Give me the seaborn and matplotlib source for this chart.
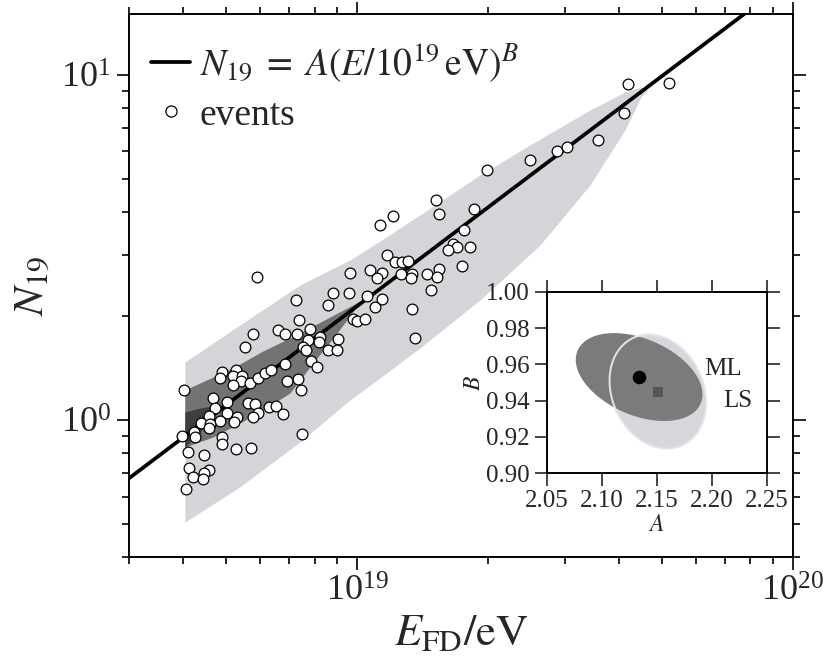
import numpy as np
import pandas as pd
import matplotlib
matplotlib.use("Agg")
import matplotlib.pyplot as plt
import seaborn as sns
from matplotlib.ticker import LogLocator, NullFormatter, MultipleLocator, FormatStrFormatter
from matplotlib.lines import Line2D

# ---- events: fluorescence energy (units of 1e18 eV) and N19 ----
event_E = [5.89, 7.25, 8.83, 9.61, 10.56, 8.60, 11.0, 7.38, 9.81, 9.99, 10.44, 5.77,
           5.54, 6.58, 6.84, 7.28, 7.81, 7.74, 8.23, 8.17, 9.07, 7.54, 7.63, 8.57,
           9.02, 7.85, 8.09, 6.84, 4.90, 4.85, 5.28, 5.20, 5.44, 5.42, 5.19, 5.68,
           5.94, 6.15, 6.34, 6.90, 7.34, 7.43, 4.02, 4.68, 5.03, 4.72, 5.63, 5.84,
           6.30, 6.51, 6.76, 5.92, 5.78, 5.04, 5.30, 4.58, 4.39, 4.85, 5.22, 4.60,
           4.58, 4.24, 3.98, 4.25, 4.91, 4.90, 5.28, 5.71, 7.50, 4.10, 4.47, 4.13,
           4.58, 4.46, 4.20, 4.44, 4.05,
           41.8, 52.1, 41.0, 35.8, 30.3, 28.8, 24.9, 19.9, 15.2, 15.4, 18.6, 11.3,
           12.1, 17.6, 11.7, 12.2, 12.7, 13.1, 16.6, 17.0, 16.2, 18.2, 17.4, 10.7,
           11.4, 11.1, 12.6, 13.4, 13.3, 14.5, 15.4, 15.3, 14.8, 11.4, 13.4, 13.6, 9.64]
event_N = [2.60, 2.22, 2.34, 2.34, 2.28, 2.15, 2.13, 1.95, 1.96, 1.93, 1.96, 1.78,
           1.63, 1.82, 1.77, 1.77, 1.83, 1.71, 1.74, 1.68, 1.72, 1.63, 1.59, 1.59,
           1.59, 1.48, 1.42, 1.45, 1.38, 1.32, 1.40, 1.34, 1.34, 1.30, 1.26, 1.28,
           1.32, 1.37, 1.40, 1.30, 1.31, 1.22, 1.22, 1.16, 1.13, 1.08, 1.12, 1.11,
           1.09, 1.10, 1.04, 1.05, 1.02, 1.05, 1.02, 1.03, 0.982, 0.993, 0.989, 0.974,
           0.946, 0.925, 0.899, 0.895, 0.891, 0.850, 0.826, 0.831, 0.909, 0.809, 0.792, 0.725,
           0.717, 0.703, 0.685, 0.675, 0.630,
           9.39, 9.45, 7.77, 6.46, 6.17, 6.00, 5.68, 5.29, 4.34, 3.94, 4.08, 3.67,
           3.91, 3.55, 3.01, 2.87, 2.86, 2.89, 3.23, 3.18, 3.11, 3.18, 2.80, 2.72,
           2.67, 2.58, 2.64, 2.65, 2.57, 2.65, 2.73, 2.60, 2.38, 2.24, 2.10, 1.73, 2.66]

# ---- fit results: N19 = A (E / 1e19 eV)^B ----
ml_A, ml_B = 2.134, 0.953
ls_A, ls_B = 2.151, 0.945
# (sigma_A, sigma_B, correlation) of the confidence regions
ml_err = (0.0576, 0.0242, -0.394)
ls_err = (0.0439, 0.0314, -0.19)

# ---- shaded regions (energy in 1e18 eV, bounds on N19) ----
outer_E = [4.03, 5.39, 7.41, 9.64, 11.30, 13.96, 19.16, 26.32, 34.27, 41.23, 44.87, 46.56]
outer_hi = [1.472, 1.885, 2.461, 2.908, 3.300, 3.926, 5.126, 6.517, 7.907, 8.916, 9.219, 9.036]
outer_lo = [0.506, 0.640, 0.864, 1.143, 1.323, 1.617, 2.227, 3.214, 4.795, 6.920, 8.625, 9.036]

inner_E = [4.03, 4.68, 5.39, 6.09, 7.02, 7.93, 8.68, 9.49, 10.17]
inner_hi = [1.222, 1.332, 1.453, 1.585, 1.728, 1.872, 1.988, 2.111, 2.212]
inner_lo = [0.835, 0.893, 0.980, 1.069, 1.197, 1.463, 1.683, 1.949, 2.197]

core_E = [4.03, 4.37, 4.80]
core_hi = [1.055, 1.083, 1.105]
core_lo = [0.835, 0.923, 1.098]

EEV = 1e18

sns.set_theme(style="ticks")
plt.rcParams["font.family"] = ["Liberation Serif", "DejaVu Serif"]
plt.rcParams["mathtext.fontset"] = "stix"
plt.rcParams["axes.linewidth"] = 1.4

fig = plt.figure(figsize=(8.23, 6.58), dpi=100)
ax = fig.add_axes([0.1567, 0.1530, 0.8065, 0.8257])
ax.set_xscale("log")
ax.set_yscale("log")

ax.fill_between(np.array(outer_E) * EEV, outer_lo, outer_hi, color="#d4d4d9", lw=0, zorder=1)
ax.fill_between(np.array(inner_E) * EEV, inner_lo, inner_hi, color="#737373", lw=0, zorder=2)
ax.fill_between(np.array(core_E) * EEV, core_lo, core_hi, color="#3e3e3e", lw=0, zorder=3)

# fitted power law across the whole axis
E_line = np.geomspace(3e18, 1e20, 60)
line_df = pd.DataFrame({"E": E_line, "N": ml_A * (E_line / 1e19) ** ml_B})
sns.lineplot(data=line_df, x="E", y="N", color="black", lw=2.7, ax=ax, zorder=4)

ev_df = pd.DataFrame({"E": np.array(event_E) * EEV, "N": event_N})
sns.scatterplot(data=ev_df, x="E", y="N", s=60, facecolor="white", edgecolor="black",
                linewidth=0.9, ax=ax, zorder=5)

ax.set_xlim(3e18, 1e20)
ax.set_ylim(0.4, 15)
ax.xaxis.set_major_locator(LogLocator(base=10))
ax.xaxis.set_minor_locator(LogLocator(base=10, subs=np.arange(2, 10)))
ax.xaxis.set_minor_formatter(NullFormatter())
ax.yaxis.set_major_locator(LogLocator(base=10))
ax.yaxis.set_minor_locator(LogLocator(base=10, subs=np.arange(2, 10)))
ax.yaxis.set_minor_formatter(NullFormatter())
ax.tick_params(which="both", direction="out", top=True, right=True, width=1.2, color="black")
ax.tick_params(which="major", length=9, labelsize=26, pad=4)
ax.tick_params(which="minor", length=5)
for sp in ax.spines.values():
    sp.set_linewidth(1.4)
    sp.set_color("black")

ax.set_xlabel(r"$E_{\mathrm{FD}}/\mathrm{eV}$", fontsize=32, labelpad=4)
ax.set_ylabel(r"$N_{19}$", fontsize=31, labelpad=6)

handles = [Line2D([], [], color="black", lw=2.7),
           Line2D([], [], ls="none", marker="o", markersize=8, markerfacecolor="white",
                  markeredgecolor="black", markeredgewidth=0.9)]
labels = [r"$N_{19}\;=\;A(E/10^{19}\,\mathrm{eV})^{B}$", "events"]
ax.legend(handles, labels, loc="upper left", bbox_to_anchor=(0.033, 0.95), frameon=False,
          fontsize=27, handlelength=1.05, handletextpad=0.25, borderaxespad=0,
          borderpad=0, labelspacing=0.36)

# ---- inset: fit parameter confidence regions ----
ins = fig.add_axes([0.6643, 0.2807, 0.2673, 0.2760])
t = np.linspace(0, 2 * np.pi, 200)


def ellipse(cA, cB, err):
    sA, sB, rho = err
    cov = np.array([[sA ** 2, rho * sA * sB], [rho * sA * sB, sB ** 2]])
    L = np.linalg.cholesky(cov)
    pts = L @ np.vstack([np.cos(t), np.sin(t)])
    return cA + pts[0], cB + pts[1]


lsx, lsy = ellipse(ls_A, ls_B, ls_err)
mlx, mly = ellipse(ml_A, ml_B, ml_err)
ins.fill(lsx, lsy, color="#d6d6dc", lw=0, zorder=1)
ins.fill(mlx, mly, color="#7b7b7b", lw=0, zorder=2)
ins.plot(lsx, lsy, color="#e4e4ec", lw=1.4, zorder=3)
ins.scatter([ml_A], [ml_B], s=95, color="black", zorder=4, linewidths=0)
ins.scatter([ls_A], [ls_B], s=60, marker="s", color="#555555", zorder=4, linewidths=0)
ins.text(2.2106, 0.9572, "ML", fontsize=18, ha="center", va="center")
ins.text(2.2236, 0.9400, "LS", fontsize=18, ha="center", va="center")

ins.set_xlim(2.05, 2.25)
ins.set_ylim(0.90, 1.00)
ins.xaxis.set_major_locator(MultipleLocator(0.05))
ins.yaxis.set_major_locator(MultipleLocator(0.02))
ins.xaxis.set_major_formatter(FormatStrFormatter("%.2f"))
ins.yaxis.set_major_formatter(FormatStrFormatter("%.2f"))
ins.tick_params(direction="out", top=True, right=True, length=9, width=1.2,
                labelsize=18, pad=3)
for sp in ins.spines.values():
    sp.set_linewidth(1.4)
    sp.set_color("black")
ins.set_xlabel(r"$A$", fontsize=17, labelpad=2)
ins.set_ylabel(r"$B$", fontsize=17, labelpad=1)

fig.savefig("out.png", dpi=100)
